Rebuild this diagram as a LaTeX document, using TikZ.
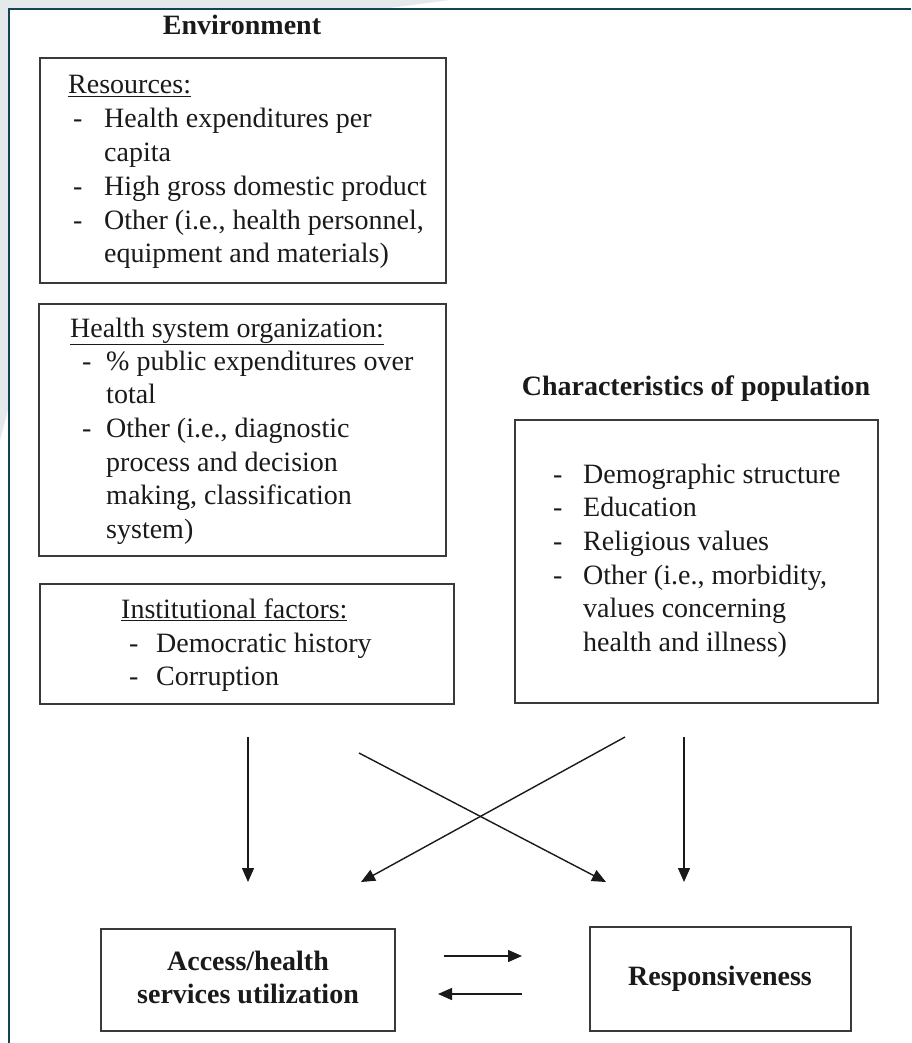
\documentclass[tikz,border=0pt]{standalone}
\usepackage{fontspec}
\setmainfont{Liberation Serif}
\usetikzlibrary{arrows.meta}
\definecolor{frameteal}{RGB}{15,72,84}
\definecolor{pagegray}{RGB}{228,233,236}
\definecolor{boxline}{RGB}{58,58,58}
\definecolor{ink}{RGB}{26,26,26}
\tikzset{
  txt/.style={inner sep=0pt, text=ink, font=\fontsize{28}{33.7}\selectfont},
  ttl/.style={txt, font=\fontsize{28}{33.7}\selectfont\bfseries},
  box/.style={draw=boxline, line width=1.6pt, inner sep=0pt, anchor=north west},
  flow/.style={draw=ink, line width=1.4pt, -{Triangle[length=14pt,width=12pt]}},
}
\newcommand{\listtab}[2]{\begin{tabular}[t]{@{}l@{\hspace{#1}}l@{}}#2\end{tabular}}
\begin{document}
\begin{tikzpicture}[x=1pt,y=-1pt]
\useasboundingbox (0,0) rectangle (911,1043);
% page margin around the frame
\fill[pagegray] (0,0) -- (450,0) -- (390,8) -- (8,8) -- (8,410) -- (0,440) -- cycle;
\draw[frameteal, line width=2.6pt] (9,1043) -- (9,9) -- (911,9);

% environment column
\node[ttl, anchor=base] (envT) at (242,35) {Environment};

\node[box, minimum width=406pt, minimum height=225pt] (res) at (39,57) {};
\node[txt, anchor=base west] (resT) at (68,94) {\underline{Resources:}};
\node[txt, anchor=base west] (resL) at (73,128) {\listtab{21.7pt}{%
  - & Health expenditures per\\
    & capita\\
  - & High gross domestic product\\
  - & Other (i.e., health personnel,\\
    & equipment and materials)}};

\node[box, minimum width=407pt, minimum height=252pt] (hso) at (38,303) {};
\node[txt, anchor=base west] (hsoT) at (70,337) {\underline{Health system organization:}};
\node[txt, anchor=base west] (hsoL) at (82,370) {\listtab{14.7pt}{%
  - & \% public expenditures over\\
    & total\\
  - & Other (i.e., diagnostic\\
    & process and decision\\
    & making, classification\\
    & system)}};

\node[box, minimum width=414pt, minimum height=120pt] (inst) at (39,583) {};
\node[txt, anchor=base west] (instT) at (121,618) {\underline{Institutional factors:}};
\node[txt, anchor=base west] (instL) at (129,652) {\listtab{17.7pt}{%
  - & Democratic history\\
  - & Corruption}};

% population column
\node[ttl, anchor=base] (popT) at (696,395) {Characteristics of population};
\node[box, minimum width=363pt, minimum height=283pt] (pop) at (514,419) {};
\node[txt, anchor=base west] (popL) at (553,483) {\listtab{20.7pt}{%
  - & Demographic structure\\
  - & Education\\
  - & Religious values\\
  - & Other (i.e., morbidity,\\
    & values concerning\\
    & health and illness)}};

% outcomes
\node[box, minimum width=294pt, minimum height=102pt] (acc) at (100,928) {};
\node[ttl, anchor=base] (accT) at (248,970)
  {\begin{tabular}[t]{@{}c@{}}Access/health\\services utilization\end{tabular}};
\node[box, minimum width=261pt, minimum height=104pt] (rsp) at (589,926) {};
\node[ttl, anchor=base] (rspT) at (720,985) {Responsiveness};

% arrow end points
\coordinate (envA) at (248,737);
\coordinate (accA) at (248,882);
\coordinate (envX) at (359,753);
\coordinate (rspX) at (606,882);
\coordinate (popX) at (625,737);
\coordinate (accX) at (361,882);
\coordinate (popA) at (684,737);
\coordinate (rspA) at (684,882);
\coordinate (accR) at (444,956);
\coordinate (rspR) at (522,956);
\coordinate (rspL) at (522,994);
\coordinate (accL) at (438,994);

\draw[flow] (envA) -- (accA);
\draw[flow] (envX) -- (rspX);
\draw[flow] (popX) -- (accX);
\draw[flow] (popA) -- (rspA);
\draw[flow] (accR) -- (rspR);
\draw[flow] (rspL) -- (accL);
\end{tikzpicture}
\end{document}
